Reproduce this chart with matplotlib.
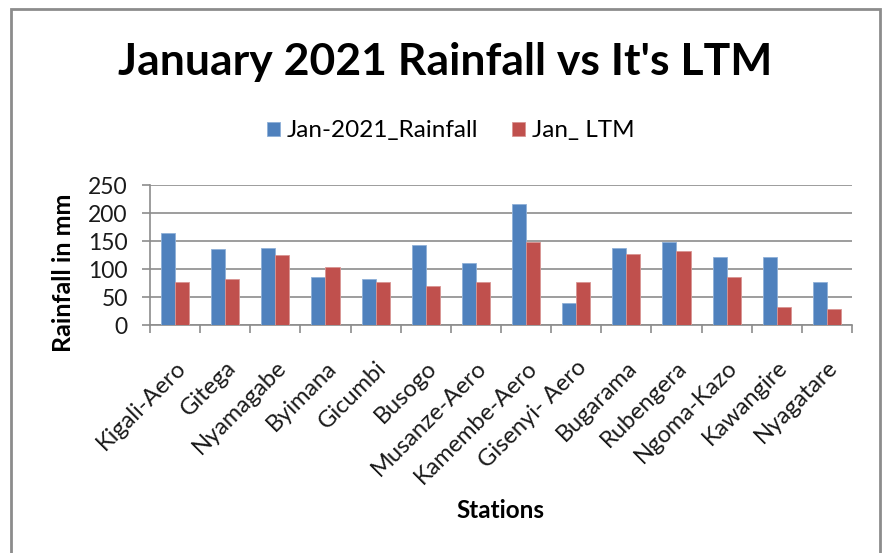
import numpy as np
import matplotlib
matplotlib.use('Agg')
import matplotlib.pyplot as plt
from matplotlib.patches import Rectangle

plt.rcParams['font.family'] = ['Lato', 'DejaVu Sans']

stations = ['Kigali-Aero', 'Gitega', 'Nyamagabe', 'Byimana', 'Gicumbi', 'Busogo',
            'Musanze-Aero', 'Kamembe-Aero', 'Gisenyi- Aero', 'Bugarama', 'Rubengera',
            'Ngoma-Kazo', 'Kawangire', 'Nyagatare']
rain_2021 = [164, 136, 138, 85, 83, 142, 110, 216, 39, 138, 148, 122, 122, 76]
ltm_jan = [76, 83, 125, 104, 76, 69, 76, 148, 76, 126, 132, 85, 33, 28]

W, H = 884, 553
fig = plt.figure(figsize=(W / 100, H / 100), dpi=100)

# chart border (outer frame)
fig.patches.append(Rectangle((11 / W, -0.05), 869 / W, 1.05 - 9 / H,
                             transform=fig.transFigure, fill=False,
                             edgecolor='#8c8c8c', lw=2))

ax = fig.add_axes([150 / W, 1 - 325 / H, 702 / W, 140 / H])

x = np.arange(len(stations))
bw = 0.28
ax.bar(x - bw / 2, rain_2021, bw, color='#4F81BD', edgecolor='#8fb0d8', lw=0.6,
       label='Jan-2021_Rainfall', zorder=3)
ax.bar(x + bw / 2, ltm_jan, bw, color='#C0504D', edgecolor='#d99593', lw=0.6,
       label='Jan_ LTM', zorder=3)

ax.set_xlim(-0.5, len(stations) - 0.5)
ax.set_ylim(0, 250)
ax.set_yticks(np.arange(0, 251, 50))
ax.yaxis.grid(True, color='#8c8c8c', lw=1.2, zorder=0)

# ticks at category boundaries
ax.set_xticks(np.arange(-0.5, len(stations), 1), minor=False)
ax.set_xticklabels([])
ax.set_xticks(x, minor=True)
ax.set_xticklabels(stations, minor=True, rotation=45, ha='right',
                   rotation_mode='anchor', fontsize=17, color='#1a1a1a')
ax.tick_params(axis='x', which='minor', length=0, pad=23)
ax.tick_params(axis='x', which='major', length=6, color='#8c8c8c', width=1.2)
ax.tick_params(axis='y', length=6, color='#8c8c8c', width=1.2, labelsize=16.5,
               labelcolor='#1a1a1a', pad=10)

for s in ['top', 'right']:
    ax.spines[s].set_visible(False)
for s in ['left', 'bottom']:
    ax.spines[s].set_color('#8c8c8c')
    ax.spines[s].set_linewidth(1.2)

ax.set_ylabel('Rainfall in mm', fontsize=18, fontweight='bold')
ax.yaxis.set_label_coords(-0.107, 0.37)
fig.text(500 / W, 1 - 511 / H, 'Stations', fontsize=17.5, fontweight='bold',
         ha='center', va='center')

fig.text(445 / W, 1 - 62 / H, "January 2021 Rainfall vs It's LTM", fontsize=32,
         fontweight='bold', ha='center', va='center')

ax.legend(loc='center', bbox_to_anchor=(451 / W, 1 - 131 / H),
          bbox_transform=fig.transFigure, ncol=2, frameon=False, fontsize=17.5,
          handlelength=0.5, handleheight=0.5, handletextpad=0.3, columnspacing=1.4)

fig.savefig('out.png', dpi=100)
